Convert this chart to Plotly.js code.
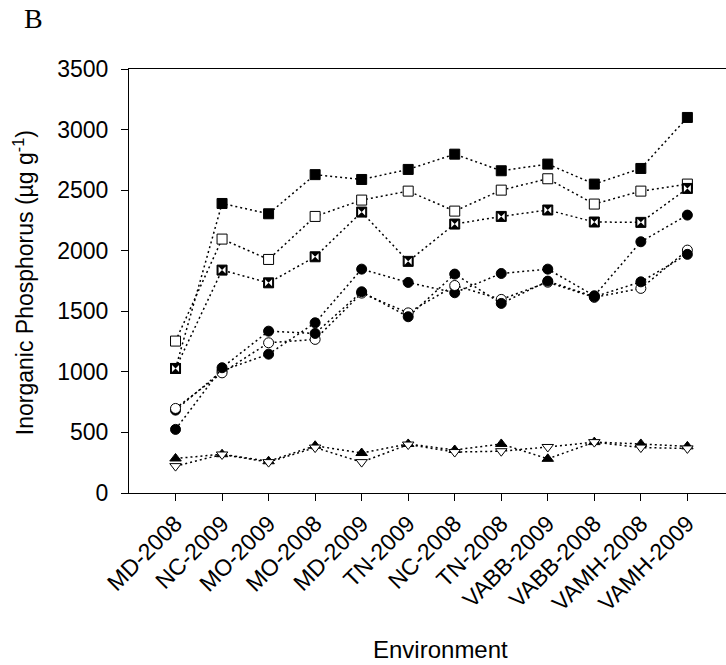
<!DOCTYPE html>
<html>
<head>
<meta charset="utf-8">
<script src="https://cdn.plot.ly/plotly-3.0.1.min.js"></script>
<style>html,body{margin:0;padding:0;background:#fff;overflow:hidden;}</style>
</head>
<body>
<div id="chart" style="width:726px;height:665px;"></div>
<script>
const categories = ["MD-2008","NC-2009","MO-2009","MO-2008","MD-2009","TN-2009","NC-2008","TN-2008","VABB-2009","VABB-2008","VAMH-2008","VAMH-2009"];
const yTicks = [0,500,1000,1500,2000,2500,3000,3500];

const filledSquare = [1028, 2390, 2305, 2628, 2588, 2671, 2797, 2660, 2715, 2550, 2679, 3100];
const openSquare   = [1254, 2096, 1928, 2283, 2418, 2492, 2327, 2500, 2594, 2385, 2492, 2550];
const bowtieSquare = [1028, 1840, 1735, 1950, 2319, 1912, 2220, 2283, 2336, 2237, 2234, 2514];
const filledCircleB = [684, 1010, 1146, 1405, 1848, 1738, 1653, 1812, 1848, 1628, 2074, 2294];
const openCircle    = [698, 992, 1240, 1268, 1650, 1487, 1713, 1598, 1740, 1615, 1689, 2005];
const filledCircleA = [525, 1034, 1336, 1317, 1661, 1455, 1807, 1565, 1749, 1620, 1743, 1970];
const filledTriangleUp = [285, 320, 262, 390, 330, 405, 355, 405, 282, 420, 405, 385];
const openTriangleDown = [222, 318, 255, 375, 255, 400, 338, 345, 380, 420, 375, 368];

const xIdx = categories.map((c, i) => i);
const lineStyle = {color: '#000', width: 1.5, dash: '2px,3px'};

function series(y, symbol, fill, size) {
  return {
    x: xIdx, y: y, type: 'scatter', mode: 'lines+markers',
    line: lineStyle,
    marker: {symbol: symbol, size: size, color: fill, line: {color: '#000', width: 1}},
    hoverinfo: 'skip', showlegend: false
  };
}

const traces = [
  series(filledTriangleUp, 'triangle-up', '#000', 10),
  series(openTriangleDown, 'triangle-down', '#fff', 10),
  series(filledCircleB, 'circle', '#000', 10),
  series(openCircle, 'circle', '#fff', 10),
  series(filledCircleA, 'circle', '#000', 10),
  series(filledSquare, 'square', '#000', 10),
  series(openSquare, 'square', '#fff', 10),
  series(bowtieSquare, 'square', '#000', 10),
  {
    x: xIdx, y: bowtieSquare, type: 'scatter', mode: 'markers',
    marker: {symbol: 'bowtie', size: 7, color: '#fff', line: {width: 0}},
    hoverinfo: 'skip', showlegend: false
  }
];

const fam = 'Arial, "Liberation Sans", sans-serif';
const tickFont = {family: fam, size: 23, color: '#000'};
const titleFont = {family: fam, size: 23, color: '#000'};

const layout = {
  width: 726, height: 665,
  margin: {l: 129, r: 0, t: 69, b: 172, pad: 0},
  paper_bgcolor: '#fff', plot_bgcolor: '#fff',
  font: tickFont,
  showlegend: false,
  xaxis: {
    range: [-1.0, 11.83],
    tickmode: 'array', tickvals: xIdx, ticktext: categories,
    tickangle: -45,
    ticks: 'outside', ticklen: 7, tickwidth: 1, tickcolor: '#000',
    showline: true, linecolor: '#000', linewidth: 1, mirror: true,
    showgrid: false, zeroline: false,
    tickfont: tickFont
  },
  yaxis: {
    range: [0, 3500],
    tickmode: 'array', tickvals: yTicks,
    ticks: 'outside', ticklen: 7, tickwidth: 1, tickcolor: '#000',
    showline: true, linecolor: '#000', linewidth: 1,
    showgrid: false, zeroline: false,
    ticklabelstandoff: 8,
    tickfont: tickFont
  },
  annotations: [
    {text: 'Inorganic Phosphorus (µg g<sup>-1</sup>)', textangle: -90,
     xref: 'paper', yref: 'paper', x: -0.176, y: 0.497, xanchor: 'center', yanchor: 'middle',
     showarrow: false, font: titleFont},
    {text: 'Environment', xref: 'paper', yref: 'paper', x: 0.521, y: -0.369,
     xanchor: 'center', yanchor: 'middle', showarrow: false,
     font: {family: fam, size: 24, color: '#000'}},
    {text: 'B', xref: 'paper', yref: 'paper', x: -0.18, y: 1.118,
     xanchor: 'left', yanchor: 'middle', showarrow: false,
     font: {family: '"Liberation Serif", "Times New Roman", serif', size: 28, color: '#000'}}
  ]
};

Plotly.newPlot('chart', traces, layout, {staticPlot: true, displayModeBar: false});
</script>
</body>
</html>
